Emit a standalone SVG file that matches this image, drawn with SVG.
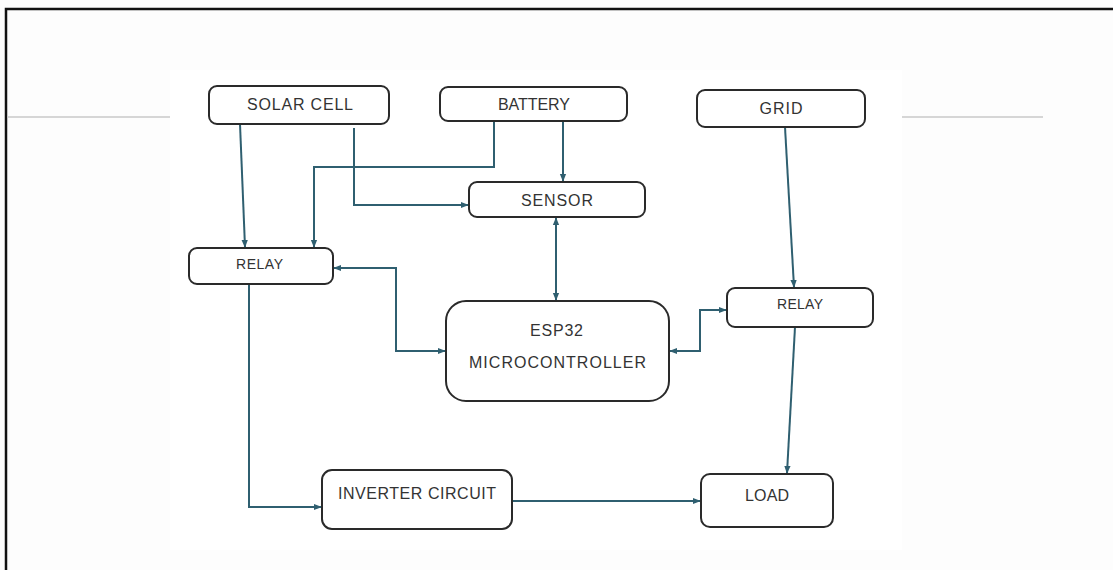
<svg xmlns="http://www.w3.org/2000/svg" width="1113" height="570" viewBox="0 0 1113 570">
<defs>
<marker id="ah" viewBox="0 0 10 10" refX="9" refY="5" markerWidth="8" markerHeight="8" markerUnits="userSpaceOnUse" orient="auto-start-reverse">
<path d="M0,1 L10,5 L0,9 z" fill="#2f5f70"/>
</marker>
<style>
.box{fill:#fff;stroke:#2a2a2a;stroke-width:2}
.t{font-family:"Liberation Sans",Arial,sans-serif;font-size:16px;fill:#333;text-anchor:middle}
.ts{font-family:"Liberation Sans",Arial,sans-serif;font-size:14px;fill:#333;text-anchor:middle}
.c{fill:none;stroke:#2f5f70;stroke-width:2}
.g{stroke:#c8c8c8;stroke-width:1.5}
</style>
</defs>
<rect width="1113" height="570" fill="#fdfdfd"/>
<rect x="170" y="70" width="732" height="480" fill="#fff"/>
<path d="M6,570 V9 H1113" fill="none" stroke="#111" stroke-width="2.5"/>
<line class="g" x1="7" y1="117" x2="170" y2="117"/>
<line class="g" x1="902" y1="117" x2="1043" y2="117"/>

<g id="connectors">
<path class="c" d="M240,124 L245,247" marker-end="url(#ah)"/>
<path class="c" d="M354,128 V205 H468" marker-end="url(#ah)"/>
<path class="c" d="M494,121 V167 H314 V247" marker-end="url(#ah)"/>
<path class="c" d="M563,121 V181" marker-end="url(#ah)"/>
<path class="c" d="M556,218 V300" marker-start="url(#ah)" marker-end="url(#ah)"/>
<path class="c" d="M445,351 H396 V268 H334" marker-start="url(#ah)" marker-end="url(#ah)"/>
<path class="c" d="M670,351 H700 V310 H726" marker-start="url(#ah)" marker-end="url(#ah)"/>
<path class="c" d="M785,127 L794,287" marker-end="url(#ah)"/>
<path class="c" d="M795,327 L787,473" marker-end="url(#ah)"/>
<path class="c" d="M249,284 V507 H321" marker-end="url(#ah)"/>
<path class="c" d="M512,501 H700" marker-end="url(#ah)"/>
</g>

<g id="solar-cell"><rect class="box" x="209" y="86" width="180" height="38" rx="8"/><text class="t" x="300" y="110" textLength="106">SOLAR CELL</text></g>
<g id="battery"><rect class="box" x="440" y="87" width="187" height="34" rx="8"/><text class="t" x="534" y="110" textLength="72">BATTERY</text></g>
<g id="grid"><rect class="box" x="697" y="90" width="168" height="37" rx="8"/><text class="t" x="781" y="113.5" textLength="43">GRID</text></g>
<g id="sensor"><rect class="box" x="469" y="182" width="176" height="35" rx="8"/><text class="t" x="557" y="205.5" textLength="72">SENSOR</text></g>
<g id="relay-left"><rect class="box" x="189" y="248" width="144" height="36" rx="8"/><text class="ts" x="259.5" y="269" textLength="47">RELAY</text></g>
<g id="relay-right"><rect class="box" x="727" y="288" width="146" height="39" rx="8"/><text class="ts" x="800" y="309" textLength="46">RELAY</text></g>
<g id="esp32"><rect class="box" x="446" y="301" width="223" height="100" rx="20"/><text class="t" x="556.5" y="336" textLength="53">ESP32</text><text class="t" x="557.5" y="368" textLength="177">MICROCONTROLLER</text></g>
<g id="inverter"><rect class="box" x="322" y="470" width="190" height="59" rx="10"/><text class="t" x="417" y="499" textLength="158">INVERTER CIRCUIT</text></g>
<g id="load"><rect class="box" x="701" y="474" width="132" height="53" rx="9"/><text class="t" x="767" y="501" textLength="44">LOAD</text></g>
</svg>
